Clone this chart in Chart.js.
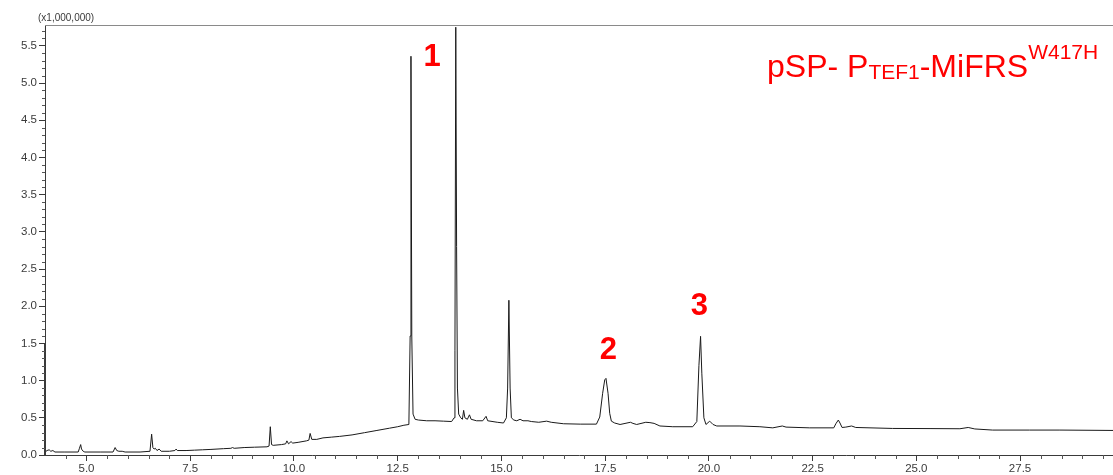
<!DOCTYPE html>
<html>
<head>
<meta charset="utf-8">
<script src="https://cdn.jsdelivr.net/npm/chart.js@4.4.1/dist/chart.umd.min.js"></script>
<style>
  html, body { margin: 0; padding: 0; background: #ffffff; }
  #wrap { width: 1113px; height: 475px; }
</style>
</head>
<body>
<div id="wrap"><canvas id="chrom" width="1113" height="475"></canvas></div>
<script>
// Retention time (min)
const retentionTime = [
  4.00, 4.05, 4.10, 4.14, 4.19, 4.24, 4.48, 4.80, 4.83, 4.86, 4.88, 4.92, 4.96,
  5.33, 5.64, 5.69, 5.73, 5.78, 5.86, 5.93, 6.29, 6.53, 6.57, 6.60, 6.63, 6.66,
  6.70, 6.75, 6.80, 7.00, 7.13, 7.16, 7.19, 7.40, 7.60, 7.80, 8.00, 8.30, 8.48,
  8.52, 8.56, 8.80, 9.05, 9.35, 9.40, 9.43, 9.46, 9.50, 9.70, 9.80, 9.83, 9.87,
  9.93, 9.97, 10.10, 10.30, 10.36, 10.39, 10.43, 10.55, 10.70, 10.90, 11.10, 11.40,
  11.70, 12.00, 12.30, 12.50, 12.65, 12.77, 12.80, 12.82, 12.84, 12.87, 12.92, 13.00,
  13.20, 13.40, 13.60, 13.80, 13.86, 13.88, 13.90, 13.92, 13.94, 13.97, 14.02, 14.06,
  14.09, 14.12, 14.18, 14.23, 14.27, 14.40, 14.55, 14.63, 14.67, 14.90, 15.05, 15.12,
  15.15, 15.18, 15.21, 15.24, 15.30, 15.37, 15.45, 15.52, 15.64, 15.72, 15.90, 16.09,
  16.20, 16.50, 16.90, 17.29, 17.37, 17.44, 17.49, 17.52, 17.57, 17.61, 17.65, 17.73,
  17.86, 18.11, 18.17, 18.26, 18.48, 18.58, 18.68, 18.82, 19.13, 19.61, 19.71, 19.76,
  19.80, 19.83, 19.88, 19.93, 20.02, 20.10, 20.19, 20.75, 21.23, 21.54, 21.77, 21.86,
  22.43, 23.01, 23.06, 23.12, 23.16, 23.21, 23.30, 23.44, 23.54, 24.43, 25.33, 26.05,
  26.25, 26.41, 26.84, 27.73, 28.46, 29.74
];

// Detector response (x1,000,000 counts)
const intensity = [
  0.04, 0.06, 0.07, 0.05, 0.06, 0.04, 0.04, 0.04, 0.09, 0.14, 0.08, 0.05, 0.04,
  0.04, 0.04, 0.10, 0.06, 0.05, 0.05, 0.04, 0.04, 0.05, 0.28, 0.10, 0.08, 0.09,
  0.06, 0.08, 0.05, 0.05, 0.06, 0.08, 0.06, 0.06, 0.065, 0.07, 0.075, 0.085, 0.09,
  0.10, 0.09, 0.10, 0.105, 0.11, 0.12, 0.38, 0.14, 0.13, 0.14, 0.15, 0.19, 0.15,
  0.18, 0.16, 0.17, 0.19, 0.20, 0.29, 0.21, 0.21, 0.23, 0.24, 0.25, 0.27,
  0.30, 0.33, 0.36, 0.38, 0.40, 0.41, 1.60, 5.36, 1.60, 0.55, 0.48, 0.47,
  0.46, 0.46, 0.455, 0.45, 0.50, 1.40, 5.75, 2.80, 0.90, 0.55, 0.50, 0.48,
  0.60, 0.50, 0.48, 0.54, 0.48, 0.46, 0.46, 0.52, 0.46, 0.44, 0.43, 0.50,
  0.90, 2.08, 0.90, 0.50, 0.47, 0.46, 0.48, 0.46, 0.46, 0.45, 0.44, 0.455,
  0.44, 0.42, 0.415, 0.415, 0.51, 0.83, 1.01, 1.03, 0.83, 0.56, 0.455, 0.43,
  0.41, 0.44, 0.425, 0.41, 0.44, 0.435, 0.425, 0.39, 0.38, 0.38, 0.45, 1.20,
  1.595, 1.10, 0.50, 0.41, 0.455, 0.41, 0.39, 0.39, 0.38, 0.365, 0.39, 0.375,
  0.365, 0.365, 0.42, 0.47, 0.43, 0.37, 0.375, 0.39, 0.37, 0.357, 0.355, 0.353,
  0.37, 0.35, 0.335, 0.335, 0.335, 0.33
];

// Axis tick labels
const timeTicks = [5.0, 7.5, 10.0, 12.5, 15.0, 17.5, 20.0, 22.5, 25.0, 27.5];
const intensityTicks = [0.0, 0.5, 1.0, 1.5, 2.0, 2.5, 3.0, 3.5, 4.0, 4.5, 5.0, 5.5];

// Peak numbers and where they sit (time, intensity)
const peakLabels = ['1', '2', '3'];
const peakLabelTime = [13.33, 17.58, 19.77];
const peakLabelLevel = [5.35, 1.41, 2.00];

const AXIS_FONT = "'Liberation Sans', Arial, sans-serif";
const AXIS_COLOR = '#3a3a3a';

const decorations = {
  id: 'decorations',
  afterDraw(chart) {
    const ctx = chart.ctx;
    const xs = chart.scales.x, ys = chart.scales.y;
    const area = chart.chartArea;
    ctx.save();

    // frame line along the top of the plot
    ctx.strokeStyle = '#8a8a8a';
    ctx.lineWidth = 1;
    ctx.beginPath();
    ctx.moveTo(area.left, area.top + 0.5);
    ctx.lineTo(area.right, area.top + 0.5);
    ctx.stroke();

    // heavier lower part of the intensity axis
    ctx.strokeStyle = AXIS_COLOR;
    ctx.lineWidth = 2;
    ctx.beginPath();
    ctx.moveTo(area.left, ys.getPixelForValue(0));
    ctx.lineTo(area.left, ys.getPixelForValue(1.5));
    ctx.stroke();

    // minor ticks
    ctx.lineWidth = 1;
    ctx.strokeStyle = '#555';
    ctx.beginPath();
    for (let k = 1; k <= 57; k++) {
      if (k % 5 === 0) continue;
      const py = Math.round(ys.getPixelForValue(k / 10)) + 0.5;
      ctx.moveTo(area.left - 3, py);
      ctx.lineTo(area.left, py);
    }
    for (let k = 9; k <= 59; k++) {
      if (k % 5 === 0) continue;
      const px = Math.round(xs.getPixelForValue(k / 2)) + 0.5;
      if (px > area.right) break;
      ctx.moveTo(px, area.bottom);
      ctx.lineTo(px, area.bottom + 4);
    }
    ctx.stroke();

    // axis multiplier
    ctx.fillStyle = AXIS_COLOR;
    ctx.font = '10px ' + AXIS_FONT;
    ctx.textAlign = 'left';
    ctx.textBaseline = 'middle';
    ctx.fillText('(x1,000,000)', 38, 18);

    // peak numbers
    ctx.fillStyle = '#ff0000';
    ctx.font = 'bold 31px ' + AXIS_FONT;
    ctx.textAlign = 'center';
    ctx.textBaseline = 'middle';
    peakLabels.forEach((lab, i) => {
      ctx.fillText(lab, xs.getPixelForValue(peakLabelTime[i]), ys.getPixelForValue(peakLabelLevel[i]));
    });

    // construct name with subscript and superscript
    ctx.textAlign = 'left';
    ctx.textBaseline = 'alphabetic';
    let x = 767;
    const base = 77;
    const part = (txt, size, dy) => {
      ctx.font = size + 'px ' + AXIS_FONT;
      ctx.fillText(txt, x, base + dy);
      x += ctx.measureText(txt).width;
    };
    part('pSP- P', 32, 0);
    part('TEF1', 21, 2);
    part('-MiFRS', 32, 0);
    part('W417H', 21, -18);

    ctx.restore();
  }
};

new Chart(document.getElementById('chrom'), {
  type: 'line',
  data: {
    datasets: [{
      data: retentionTime.map((t, i) => ({ x: t, y: intensity[i] })),
      borderColor: '#1a1a1a',
      borderWidth: 1,
      pointRadius: 0,
      tension: 0,
      fill: false
    }]
  },
  options: {
    responsive: false,
    animation: false,
    layout: { padding: { top: 25, left: 0, right: 0, bottom: 0 } },
    plugins: { legend: { display: false }, tooltip: { enabled: false } },
    scales: {
      x: {
        type: 'linear',
        min: 4.0,
        max: 29.74,
        afterFit(scale) { scale.height = 20; },
        afterBuildTicks(scale) { scale.ticks = timeTicks.map(v => ({ value: v })); },
        border: { display: true, color: AXIS_COLOR, width: 1 },
        grid: { drawOnChartArea: false, drawTicks: true, tickLength: 6, tickColor: AXIS_COLOR },
        ticks: {
          color: AXIS_COLOR,
          font: { family: AXIS_FONT, size: 11.5 },
          padding: 1,
          maxRotation: 0,
          autoSkip: false,
          callback: v => Number(v).toFixed(1)
        }
      },
      y: {
        type: 'linear',
        min: 0,
        max: 5.78,
        afterFit(scale) { scale.width = 45; },
        afterBuildTicks(scale) { scale.ticks = intensityTicks.map(v => ({ value: v })); },
        border: { display: true, color: AXIS_COLOR, width: 1 },
        grid: { drawOnChartArea: false, drawTicks: true, tickLength: 6, tickColor: AXIS_COLOR },
        ticks: {
          color: AXIS_COLOR,
          font: { family: AXIS_FONT, size: 11.5 },
          padding: 2,
          autoSkip: false,
          callback: v => Number(v).toFixed(1)
        }
      }
    }
  },
  plugins: [decorations]
});
</script>
</body>
</html>
